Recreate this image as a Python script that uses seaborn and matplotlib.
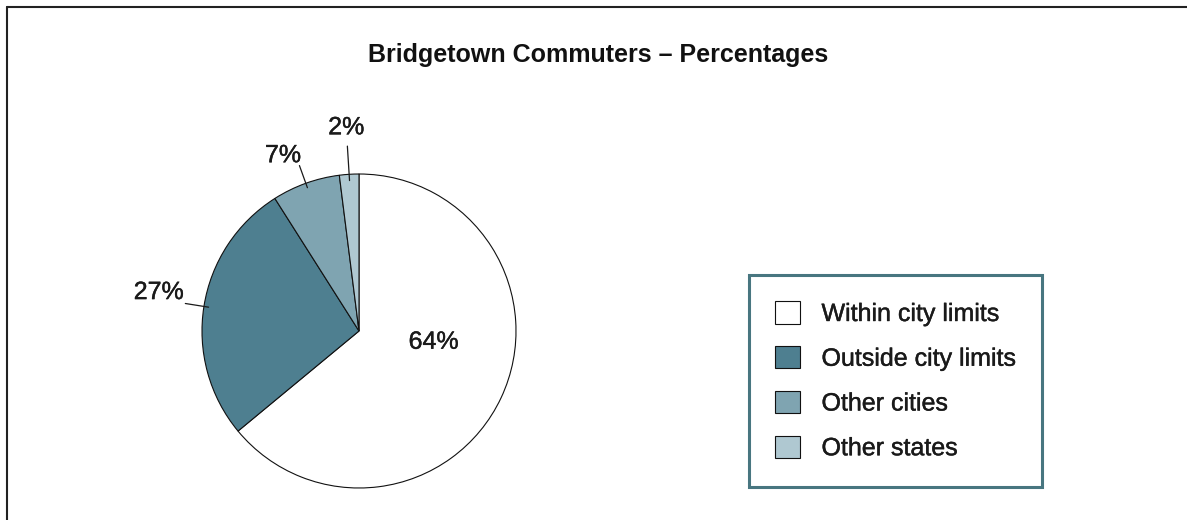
import numpy as np
import matplotlib
matplotlib.use("Agg")
import matplotlib.pyplot as plt
import matplotlib.patheffects as pe
from matplotlib.lines import Line2D
import seaborn as sns

# data
categories = ["Within city limits", "Outside city limits", "Other cities", "Other states"]
shares = [64, 27, 7, 2]
slice_colors = ["#FFFFFF", "#4E7F90", "#7FA4B1", "#AFC8D1"]
title = "Bridgetown Commuters \u2013 Percentages"

# where the percent labels sit (radius in pie units, angle nudge in degrees)
label_radius = [0.48, 1.30, 1.22, 1.30]
label_nudge = [17, -2, 3.6, 0]
leader = [None, (0.97, 1.12), (0.97, 1.12), (0.96, 1.18)]

sns.set_theme(style="white")
plt.rcParams['font.family'] = ['Liberation Sans', 'DejaVu Sans']

W, H = 1187, 520
fig = plt.figure(figsize=(W / 100, H / 100), dpi=100)
heavier = [pe.withStroke(linewidth=0.3, foreground="#1a1a1a")]

# pie: centre (359, 331) px, radius 157 px
side = 500
cx, cy, r = 359, 331, 157
ax = fig.add_axes([(cx - side / 2) / W, (H - cy - side / 2) / H, side / W, side / H])
lim = side / (2 * r)

wedges, _ = ax.pie(shares, colors=slice_colors, startangle=90, counterclock=False,
                   wedgeprops=dict(edgecolor="#111111", linewidth=0.8))
ax.set_xlim(-lim, lim)
ax.set_ylim(-lim, lim)
ax.set_aspect("equal")
ax.axis("off")

for i, w in enumerate(wedges):
    mid = (w.theta1 + w.theta2) / 2
    a = np.deg2rad(mid + label_nudge[i])
    lr = label_radius[i]
    ax.text(lr * np.cos(a), lr * np.sin(a), f"{shares[i]}%", ha="center", va="center",
            fontsize=18, color="#1a1a1a", clip_on=False, path_effects=heavier)
    if leader[i] is not None:
        r0, r1 = leader[i]
        ca, sa = np.cos(np.deg2rad(mid)), np.sin(np.deg2rad(mid))
        ax.plot([r0 * ca, r1 * ca], [r0 * sa, r1 * sa], color="#1a1a1a", lw=0.9, clip_on=False)

fig.text(598 / W, 1 - 55 / H, title, ha="center", va="center",
         fontsize=18, fontweight="bold", color="#111111")

leg = fig.legend(wedges, categories, loc="upper left",
                 bbox_to_anchor=(749 / W, 1 - 275 / H),
                 fontsize=18, frameon=True, fancybox=False,
                 handlelength=1.0, handleheight=1.0, handletextpad=0.85,
                 labelspacing=0.8, borderpad=1.05, borderaxespad=0)
frame = leg.get_frame()
frame.set_edgecolor("#1A5461")
frame.set_linewidth(2.2)
for t in leg.get_texts():
    t.set_color("#1a1a1a")
    t.set_path_effects(heavier)
for h in leg.legend_handles:
    h.set_edgecolor("#111111")
    h.set_linewidth(0.8)

# outer frame: top and left only
fig.add_artist(Line2D([7 / W, 1], [1 - 7 / H, 1 - 7 / H], color="#222222", lw=1.5))
fig.add_artist(Line2D([7 / W, 7 / W], [0, 1 - 7 / H], color="#222222", lw=1.5))

fig.savefig("out.png", dpi=100, facecolor="white")
